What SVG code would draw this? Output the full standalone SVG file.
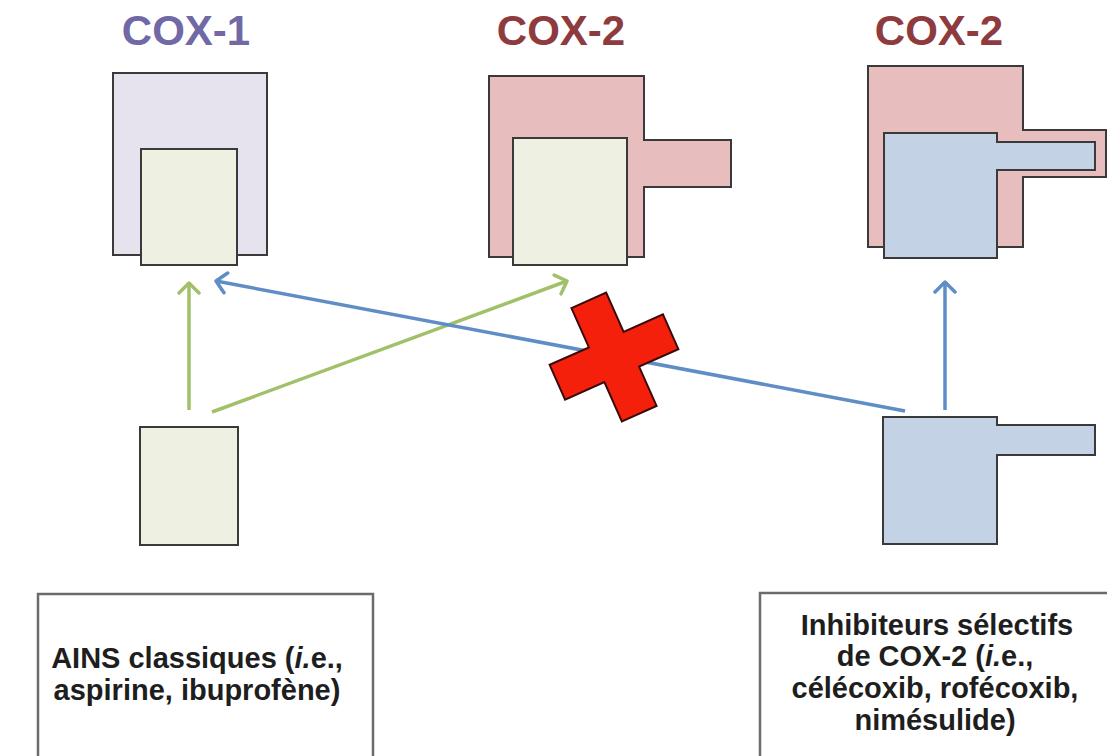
<svg xmlns="http://www.w3.org/2000/svg" width="1107" height="756" viewBox="0 0 1107 756">
  <style>
    .title { font-family: "Liberation Sans", Arial, sans-serif; font-weight: bold; font-size: 42px; text-anchor: middle; }
    .label { font-family: "Liberation Sans", Arial, sans-serif; font-weight: bold; font-size: 29px; text-anchor: middle; fill: #1e1e1e; }
    .shape { stroke: #3a3a3a; stroke-width: 2; stroke-linejoin: miter; }
    .lav { fill: #e6e3ef; }
    .pink { fill: #e8bdbd; }
    .pale { fill: #eef0e2; }
    .blue { fill: #c3d3e5; }
    .box { fill: #ffffff; stroke: #6b6b6b; stroke-width: 2.5; }
    .green { stroke: #a2c06a; stroke-width: 3.5; fill: none; }
    .bluel { stroke: #5f8dc6; stroke-width: 3.5; fill: none; }
  </style>
  <defs>
    <marker id="ag" viewBox="0 0 24 24" refX="12" refY="12" markerWidth="24" markerHeight="24" markerUnits="userSpaceOnUse" orient="auto">
      <path d="M2,2 L12,12 L2,22" fill="none" stroke="#a2c06a" stroke-width="3.5" stroke-linecap="round" stroke-linejoin="round"/>
    </marker>
    <marker id="ab" viewBox="0 0 24 24" refX="12" refY="12" markerWidth="24" markerHeight="24" markerUnits="userSpaceOnUse" orient="auto">
      <path d="M2,2 L12,12 L2,22" fill="none" stroke="#5f8dc6" stroke-width="3.5" stroke-linecap="round" stroke-linejoin="round"/>
    </marker>
  </defs>

  <rect width="1107" height="756" fill="#ffffff"/>

  <g id="cox1">
    <text class="title" x="186" y="45" fill="#7168a6">COX-1</text>
    <rect class="shape lav" x="113" y="73" width="154" height="182"/>
    <rect class="shape pale" x="141" y="149" width="96" height="116"/>
  </g>

  <g id="cox2-mid">
    <text class="title" x="561" y="45" fill="#8e3b40">COX-2</text>
    <path class="shape pink" d="M489,76 H644 V140 H731 V187 H644 V257 H489 Z"/>
    <rect class="shape pale" x="513" y="138" width="114" height="127"/>
  </g>

  <g id="cox2-right">
    <text class="title" x="939" y="45" fill="#8e3b40">COX-2</text>
    <path class="shape pink" d="M868,66 H1023 V130 H1106 V177 H1023 V247 H868 Z"/>
    <path class="shape blue" d="M884,133 H997 V142 H1095 V170 H997 V258 H884 Z"/>
  </g>

  <g id="ains-shape">
    <rect class="shape pale" x="140" y="427" width="98" height="118"/>
  </g>

  <g id="coxib-shape">
    <path class="shape blue" d="M883,417 H997 V425 H1095 V455 H997 V544 H883 Z"/>
  </g>

  <g id="connectors">
    <line class="green" x1="189" y1="410" x2="189" y2="283" marker-end="url(#ag)"/>
    <line class="green" x1="212" y1="412" x2="567" y2="281" marker-end="url(#ag)"/>
    <line class="bluel" x1="905" y1="411" x2="216" y2="281" marker-end="url(#ab)"/>
    <line class="bluel" x1="945" y1="410" x2="945" y2="282" marker-end="url(#ab)"/>
  </g>

  <g id="cross">
    <polygon transform="translate(614,357) rotate(-24)" fill="#f5200c" stroke="#3a0a0a" stroke-width="2" stroke-linejoin="miter"
      points="-19,-62 19,-62 19,-19 62,-19 62,19 19,19 19,62 -19,62 -19,19 -62,19 -62,-19 -19,-19"/>
  </g>

  <g id="ains-box">
    <rect class="box" x="38" y="594" width="335" height="200"/>
    <text class="label" x="197" y="668">AINS classiques (<tspan font-style="italic">i.</tspan>e.,</text>
    <text class="label" x="197" y="700">aspirine, ibuprofène)</text>
  </g>

  <g id="coxib-box">
    <rect class="box" x="760" y="593" width="400" height="200"/>
    <text class="label" x="937" y="635">Inhibiteurs sélectifs</text>
    <text class="label" x="935" y="666">de COX-2 (<tspan font-style="italic">i.</tspan>e.,</text>
    <text class="label" x="935" y="698">célécoxib, rofécoxib,</text>
    <text class="label" x="935" y="730">nimésulide)</text>
  </g>
</svg>
